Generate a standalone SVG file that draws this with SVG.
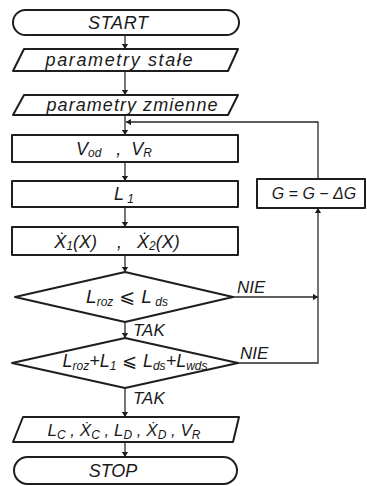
<svg xmlns="http://www.w3.org/2000/svg" width="367" height="486" viewBox="0 0 367 486">
  <defs>
    <marker id="ah" viewBox="0 0 8 10" refX="8" refY="5" markerWidth="5" markerHeight="7" orient="auto" markerUnits="userSpaceOnUse">
      <path d="M0,0 L8,5 L0,10 Z" fill="#1e1e1e"/>
    </marker>
    <style>
      .shape { fill: none; stroke: #1e1e1e; stroke-width: 2; stroke-linejoin: round; }
      .line { fill: none; stroke: #2a2a2a; stroke-width: 1.3; }
      .t { font-family: "Liberation Sans", "DejaVu Sans", sans-serif; font-style: italic; font-size: 18px; fill: #1a1a1a; text-anchor: middle; white-space: pre; }
      .lbl { font-family: "Liberation Sans", "DejaVu Sans", sans-serif; font-style: italic; font-size: 17px; fill: #1a1a1a; }
      .sub { font-size: 12px; }
      .rel { font-family: "DejaVu Sans", sans-serif; font-style: normal; }
    </style>
  </defs>
  <rect width="367" height="486" fill="#ffffff"/>

  <!-- connectors -->
  <g id="connectors">
    <line class="line" x1="125" y1="35" x2="125" y2="49" marker-end="url(#ah)"/>
    <line class="line" x1="125" y1="71" x2="125" y2="95" marker-end="url(#ah)"/>
    <line class="line" x1="125" y1="115" x2="125" y2="135" marker-end="url(#ah)"/>
    <line class="line" x1="125" y1="162" x2="125" y2="181" marker-end="url(#ah)"/>
    <line class="line" x1="125" y1="207" x2="125" y2="227" marker-end="url(#ah)"/>
    <line class="line" x1="125" y1="255" x2="125" y2="272" marker-end="url(#ah)"/>
    <line class="line" x1="125" y1="322" x2="125" y2="338" marker-end="url(#ah)"/>
    <line class="line" x1="125" y1="388" x2="125" y2="417" marker-end="url(#ah)"/>
    <line class="line" x1="125" y1="442" x2="125" y2="457" marker-end="url(#ah)"/>
    <!-- NIE branches -->
    <line class="line" x1="233" y1="297" x2="318" y2="297" marker-end="url(#ah)"/>
    <polyline class="line" points="238,363 318,363 318,208" marker-end="url(#ah)"/>
    <!-- loop back -->
    <polyline class="line" points="318,179 318,122 126,122" marker-end="url(#ah)"/>
    <text class="lbl" x="237" y="293">NIE</text>
    <text class="lbl" x="240" y="359">NIE</text>
    <text class="lbl" x="133" y="336">TAK</text>
    <text class="lbl" x="133" y="404">TAK</text>
  </g>

  <g id="start">
    <rect class="shape" x="13" y="10" width="226" height="25" rx="12.5"/>
    <text class="t" x="118" y="29" textLength="60" lengthAdjust="spacing">START</text>
  </g>

  <g id="params-fixed">
    <polygon class="shape" points="24,49 238,49 228,71 13,71"/>
    <text class="t" x="119" y="66" textLength="147" lengthAdjust="spacing">parametry stałe</text>
  </g>

  <g id="params-var">
    <polygon class="shape" points="24,95 238,95 228,115 13,115"/>
    <text class="t" x="132" y="111" textLength="171" lengthAdjust="spacing">parametry zmienne</text>
  </g>

  <g id="velocities">
    <rect class="shape" x="12" y="135" width="226" height="27"/>
    <text class="t" x="114" y="155">V<tspan class="sub" dy="2">od</tspan><tspan dy="-2">   ,  V</tspan><tspan class="sub" dy="2">R</tspan></text>
  </g>

  <g id="l1">
    <rect class="shape" x="12" y="181" width="226" height="26"/>
    <text class="t" x="124" y="200">L<tspan class="sub" dy="3"> 1</tspan></text>
  </g>

  <g id="xdot">
    <rect class="shape" x="12" y="227" width="226" height="28"/>
    <text class="t" x="117" y="248">Ẋ<tspan class="sub" dy="2">1</tspan><tspan dy="-2">(X)    ,   Ẋ</tspan><tspan class="sub" dy="2">2</tspan><tspan dy="-2">(X)</tspan></text>
  </g>

  <g id="cond1">
    <polygon class="shape" points="125,272 233,297 125,322 15,297"/>
    <text class="t" x="127" y="303" style="font-size:19px">L<tspan class="sub" dy="3">roz</tspan><tspan class="rel" dy="-3"> ⩽ </tspan>L<tspan class="sub" dy="3"> ds</tspan></text>
  </g>

  <g id="cond2">
    <polygon class="shape" points="125,338 238,363 125,388 12,363"/>
    <text class="t" x="135" y="367" style="font-size:18px">L<tspan class="sub" dy="3">roz</tspan><tspan dy="-3">+L</tspan><tspan class="sub" dy="3">1</tspan><tspan class="rel" dy="-3"> ⩽ </tspan>L<tspan class="sub" dy="3">ds</tspan><tspan dy="-3">+L</tspan><tspan class="sub" dy="3">wds</tspan></text>
  </g>

  <g id="g-update">
    <rect class="shape" x="257" y="179" width="108" height="29"/>
    <text class="t" x="314" y="199" style="font-size:16px">G = G − ΔG</text>
  </g>

  <g id="output">
    <polygon class="shape" points="23,417 239,417 233,442 13,442"/>
    <text class="t" x="124" y="436" style="font-size:17px">L<tspan class="sub" dy="3">C</tspan><tspan dy="-3"> , Ẋ</tspan><tspan class="sub" dy="3">C</tspan><tspan dy="-3"> , L</tspan><tspan class="sub" dy="3">D</tspan><tspan dy="-3"> , Ẋ</tspan><tspan class="sub" dy="3">D</tspan><tspan dy="-3"> , V</tspan><tspan class="sub" dy="3">R</tspan></text>
  </g>

  <g id="stop">
    <rect class="shape" x="14" y="457" width="223" height="27" rx="13.5"/>
    <text class="t" x="113" y="477">STOP</text>
  </g>
</svg>
